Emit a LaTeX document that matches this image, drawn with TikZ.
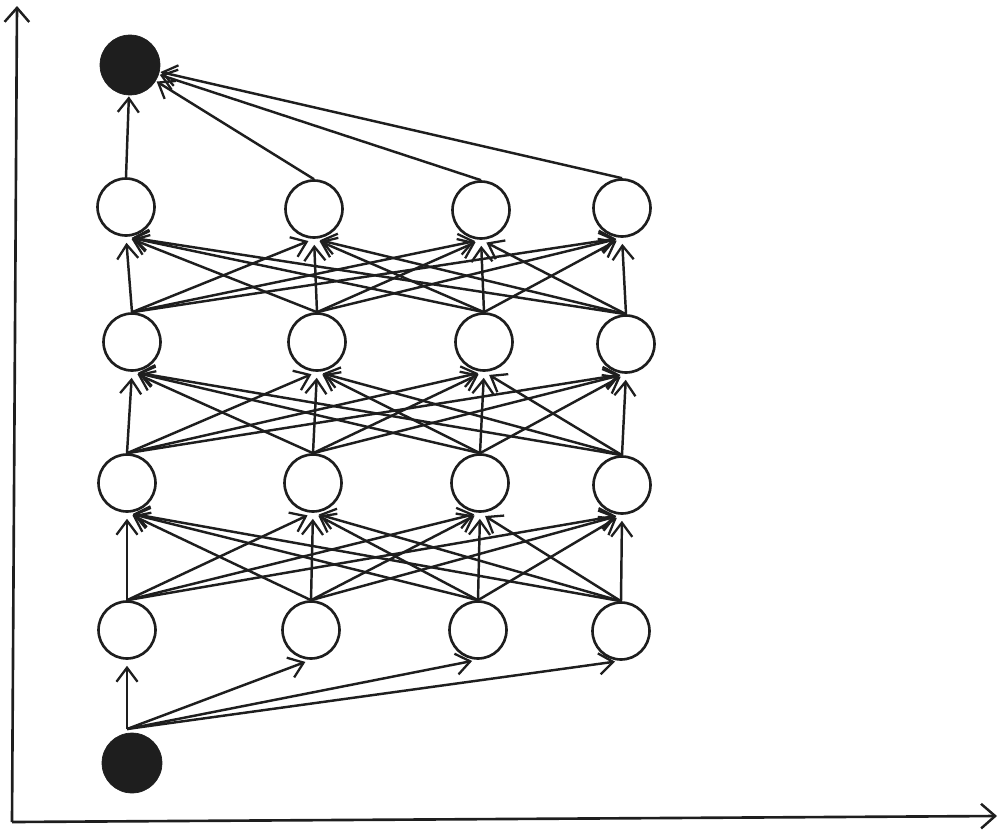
\documentclass[tikz,border=0pt]{standalone}
\usetikzlibrary{arrows.meta}
\definecolor{ink}{HTML}{1E1E1E}
\tikzset{
  neuron/.style={circle, draw=ink, line width=1.5pt, fill=white, minimum size=1.14cm, inner sep=0pt},
  terminal/.style={circle, draw=ink, fill=ink, minimum size=1.2cm, inner sep=0pt},
  link/.style={draw=ink, line width=1.4pt, shorten >=0.12cm, -{Straight Barb[length=8pt, width=12pt, line width=1.3pt]}},
  axis/.style={draw=ink, line width=1.5pt, -{Straight Barb[length=8pt, width=14pt, line width=1.4pt]}}
}
\begin{document}
\begin{tikzpicture}[x=0.02cm, y=-0.02cm]

    % frame
    \useasboundingbox (0,0) rectangle (1007,832);

    % axes
    \coordinate (origin) at (12,822);
    \coordinate (ytop) at (17,6);
    \coordinate (xend) at (997,816);
    \draw [axis] (origin) -- (ytop);
    \draw [axis] (origin) -- (xend);

    % source & sink
    \node [terminal] (src) at (132,763) {};
    \node [terminal] (snk) at (130,65) {};

    % layers
    \node [neuron] (n11) at (127,630) {};
    \node [neuron] (n12) at (311,630) {};
    \node [neuron] (n13) at (478,630) {};
    \node [neuron] (n14) at (621,631) {};

    \node [neuron] (n21) at (127,483) {};
    \node [neuron] (n22) at (313,483) {};
    \node [neuron] (n23) at (480,483) {};
    \node [neuron] (n24) at (622,485) {};

    \node [neuron] (n31) at (132,342) {};
    \node [neuron] (n32) at (317,342) {};
    \node [neuron] (n33) at (484,342) {};
    \node [neuron] (n34) at (626,344) {};

    \node [neuron] (n41) at (126,207) {};
    \node [neuron] (n42) at (314,209) {};
    \node [neuron] (n43) at (481,210) {};
    \node [neuron] (n44) at (622,208) {};

    % source -> first layer
    \coordinate (fan) at (127,729);
    \foreach \j in {1,...,4}
        \draw [link] (fan) -- (n1\j.south);

    % layer -> layer
    \foreach \l/\u in {1/2, 2/3, 3/4}
        \foreach \i in {1,...,4}
            \foreach \j in {1,...,4}
                \draw [link] (n\l\i.north) -- (n\u\j.south);

    % last layer -> sink
    \foreach \i in {1,...,4}
        \draw [link, shorten >=0.02cm] (n4\i.north) -- (snk);

\end{tikzpicture}
\end{document}
